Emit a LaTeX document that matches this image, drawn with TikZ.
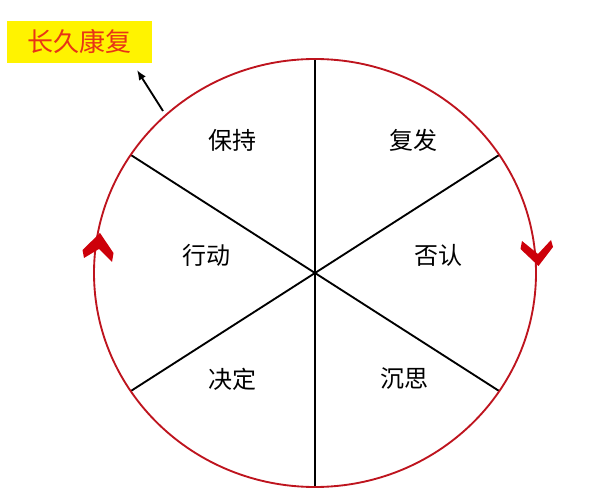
\documentclass[tikz,border=0pt]{standalone}
\usepackage{fontspec}
\newfontfamily\cjk{Noto Sans CJK SC}
\usetikzlibrary{arrows.meta,positioning}
\definecolor{ringred}{RGB}{190,20,30}
\definecolor{chevred}{RGB}{205,0,10}
\definecolor{tagyellow}{RGB}{255,243,0}
\definecolor{tagred}{RGB}{232,52,22}

\begin{document}
\begin{tikzpicture}[x=0.75pt,y=-0.75pt,
		sector/.style={font=\cjk\fontsize{18}{18}\selectfont,inner sep=0pt},
		spoke/.style={line width=1.4pt},
		tag/.style={fill=tagyellow,text=tagred,font=\cjk\fontsize{19.5}{20}\selectfont,
			minimum width=108.75pt,minimum height=31.5pt,inner sep=0pt}]
			\useasboundingbox (0,0) rectangle (600,502);
			\coordinate (c) at (315,273);
			\foreach \a/\n in {90/s,270/n,33.5/se,146.5/sw,213.5/nw,326.5/ne}
			\coordinate (rim-\n) at ([shift={(\a:221 and 214)}]c);
			% spokes and ring
			\foreach \n in {n,s,ne,nw,se,sw}
			\draw[spoke] (c) -- (rim-\n);
			\draw[ringred,line width=1.4pt] (c) ellipse [x radius=221,y radius=214];
			% stages
			\node[sector] (baochi) at (232,140) {保持};
			\node[sector] (fufa) at (413,140) {复发};
			\node[sector] (xingdong) at (206,255) {行动};
			\node[sector] (fouren) at (438,255) {否认};
			\node[sector] (jueding) at (232,379) {决定};
			\node[sector] (chensi) at (404,379) {沉思};
			% direction marks
			\fill[chevred] (100,233) -- (113.5,253) -- (112,262) -- (99,249)
			-- (84,258) -- (82.5,250) -- cycle;
			\fill[chevred] (538.5,266) -- (520.5,249) -- (522,241) -- (538,254)
			-- (551,240) -- (553,247) -- cycle;
			% goal
			\node[tag] (recovery) at (79.5,42) {长久康复};
			\coordinate (exit) at (163,111);
			\coordinate (goal) at (137,70);
			\draw[-{Latex[length=7.5pt,width=6pt]},line width=1.4pt] (exit) -- (goal);
		\end{tikzpicture}
\end{document}
